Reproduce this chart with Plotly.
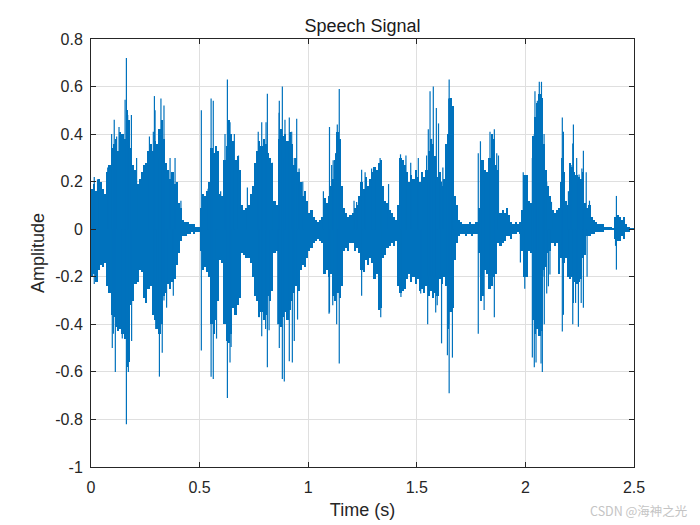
import plotly.graph_objects as go

# envelope of the signal, one value every 0.01 s
upper = [
    .17, .19, .16, .21, .20, .17, .15, .24, .27, .34,
    .36, .38, .33, .41, .40, .38, .50, .46, .34, .27,
    .25, .19, .21, .24, .27, .28, .33, .36, .33, .37,
    .36, .42, .46, .38, .28, .25, .21, .24, .19, .20,
    .11, .09, .04, .03, .03, .02, .02, .02, .01, .01,
    .09, .15, .14, .16, .20, .34, .32, .35, .33, .15,
    .14, .29, .35, .46, .40, .37, .29, .31, .25, .10,
    .08, .09, .10, .15, .18, .28, .33, .37, .35, .38,
    .36, .32, .30, .28, .12, .10, .38, .42, .39, .40,
    .37, .41, .36, .27, .30, .24, .20, .14, .16, .12,
    .07, .08, .05, .04, .03, .04, .05, .13, .11, .14,
    .18, .21, .29, .41, .38, .18, .09, .07, .05, .06,
    .07, .09, .10, .14, .20, .17, .22, .18, .21, .24,
    .26, .25, .28, .29, .18, .12, .11, .08, .07, .05,
    .04, .10, .30, .29, .27, .24, .20, .23, .21, .25,
    .22, .20, .24, .22, .25, .33, .38, .36, .31, .22,
    .24, .18, .21, .36, .40, .55, .52, .14, .10, .04,
    .03, .02, .02, .02, .03, .02, .02, .03, .09, .29,
    .29, .25, .24, .30, .40, .38, .27, .25, .07, .08,
    .07, .09, .06, .03, .02, .03, .02, .03, .08, .23,
    .23, .12, .11, .39, .47, .53, .57, .55, .36, .25,
    .18, .14, .08, .07, .08, .09, .20, .24, .12, .10,
    .28, .26, .24, .23, .22, .21, .24, .11, .09, .10,
    .05, .04, .03, .02, .02, .02, .01, .01, .01, .01,
    .005, .05, .06, .05, .04, .05, .02, .01, .005, .002,
]
lower = [
    -.20, -.19, -.22, -.17, -.15, -.16, -.14, -.24, -.27, -.36,
    -.37, -.41, -.43, -.42, -.44, -.46, -.58, -.56, -.32, -.30,
    -.23, -.22, -.17, -.18, -.29, -.31, -.25, -.24, -.36, -.38,
    -.42, -.44, -.40, -.28, -.27, -.23, -.25, -.22, -.21, -.15,
    -.10, -.05, -.03, -.03, -.02, -.02, -.01, -.02, -.01, -.01,
    -.09, -.17, -.16, -.18, -.20, -.40, -.44, -.38, -.30, -.13,
    -.14, -.40, -.47, -.48, -.44, -.33, -.36, -.32, -.29, -.10,
    -.11, -.12, -.12, -.14, -.20, -.28, -.30, -.37, -.35, -.38,
    -.36, -.28, -.30, -.26, -.10, -.09, -.40, -.41, -.37, -.35,
    -.38, -.34, -.30, -.27, -.24, -.26, -.17, -.15, -.16, -.12,
    -.09, -.08, -.06, -.05, -.04, -.05, -.06, -.19, -.17, -.20,
    -.19, -.28, -.30, -.27, -.29, -.24, -.09, -.08, -.09, -.06,
    -.06, -.09, -.08, -.10, -.17, -.18, -.13, -.15, -.12, -.14,
    -.21, -.19, -.34, -.33, -.12, -.11, -.08, -.07, -.06, -.07,
    -.05, -.24, -.27, -.26, -.25, -.21, -.19, -.22, -.20, -.23,
    -.21, -.26, -.25, -.27, -.24, -.28, -.26, -.29, -.27, -.28,
    -.21, -.23, -.20, -.24, -.42, -.35, -.33, -.13, -.06, -.03,
    -.02, -.02, -.03, -.02, -.02, -.03, -.02, -.02, -.10, -.30,
    -.28, -.17, -.19, -.25, -.24, -.20, -.19, -.06, -.07, -.06,
    -.05, -.03, -.03, -.04, -.02, -.02, -.01, -.02, -.09, -.20,
    -.20, -.09, -.10, -.38, -.44, -.42, -.45, -.43, -.17, -.16,
    -.10, -.09, -.06, -.07, -.06, -.19, -.12, -.14, -.12, -.20,
    -.21, -.20, -.22, -.23, -.22, -.21, -.12, -.11, -.03, -.03,
    -.02, -.02, -.01, -.01, -.01, -.01, -.005, -.005, -.005, -.005,
    -.005, -.04, -.05, -.05, -.03, -.04, -.01, -.01, -.005, -.002,
]
time_s = [i / 100 for i in range(len(upper))]

# single strokes that stick out of the envelope
spike_t = [.098, .107, .112, .129, .163, .172, .186, .292, .295, .315, .322, .328, .336,
           .508, .553, .563, .628, .786, .812, .867, .881, .89, .913, .927, .936, 1.098,
           1.143, 1.246, 1.334, 1.55, 1.553, 1.561, 1.576, 1.587, 1.59, 1.614, 1.641,
           1.647, 1.649, 1.664, 1.783, 1.793, 1.81, 1.837, 1.857, 2.032, 2.041, 2.044,
           2.049, 2.055, 2.064, 2.072, 2.074, 2.078, 2.086, 2.087, 2.098, 2.17, 2.175,
           2.218, 2.221, 2.244, 2.257, 2.267, 2.419]
spike_hi = [.3, .46, .3, .43, .72, .4, .48, .56, .5, .3, .55, .4, .52,
            .5, .55, .54, .63, .3, .57, .54, .6, .3, .47, .3, .3, .43,
            .59, .15, .25, .2, .42, .58, .6, .3, .51, .2, .3,
            .55, .63, .4, .32, .37, .2, .41, .42, .3, .4, .58,
            .4, .54, .62, .5, .62, .4, .4, .2, .2, .47, .41,
            .2, .44, .2, .2, .33, .14]
spike_lo = [-.5, -.3, -.6, -.3, -.82, -.6, -.3, -.3, -.3, -.62, -.4, -.52, -.3,
            -.51, -.62, -.63, -.71, -.45, -.58, -.5, -.63, -.64, -.555, -.56, -.47, -.35,
            -.565, -.28, -.37, -.4, -.2, -.2, -.2, -.35, -.2, -.48, -.53,
            -.4, -.69, -.54, -.44, -.2, -.34, -.2, -.37, -.54, -.58, -.4,
            -.56, -.4, -.4, -.565, -.4, -.6, -.2, -.4, -.27, -.43, -.36,
            -.4, -.31, -.41, -.31, -.33, -.17]

# shorter strokes along the top edge
top_t = [.015, .03, .077, .095, .118, .157, .169, .21, .269, .287, .364, .387, .414,
         .539, .597, .617, .64, .66, .679, .72, .77, .786, .806, .835, .866, .893, .924,
         .947, .958, .975, 1.07, 1.115, 1.108, 1.126, 1.134, 1.211, 1.223, 1.246, 1.262,
         1.292, 1.307, 1.331, 1.37, 1.425, 1.45, 1.472, 1.507, 1.545, 1.568, 1.6, 1.62,
         1.665, 1.668, 1.868, 1.876, 1.99, 2.095, 2.12, 2.167, 2.198, 2.21, 2.218, 2.236,
         2.247, 2.26, 2.28, 2.295]
top_y = [.22, .21, .26, .4, .39, .545, .48, .3, .39, .41, .3, .3, .12,
         .17, .16, .4, .45, .4, .31, .175, .41, .45, .45, .28, .49, .46, .41,
         .465, .255, .2, .16, .29, .27, .32, .44, .12, .115, .25, .24,
         .255, .26, .3, .19, .315, .31, .28, .3, .31, .38, .445, .26,
         .49, .4, .32, .31, .24, .24, .115, .3, .16, .27, .36, .3,
         .23, .255, .24, .12]
# and along the bottom edge
bot_t = [.015, .103, .144, .187, .253, .298, .348, .379, .578, .64, .645, .774, .804,
         .82, .86, .951, 1.096, 1.113, 1.131, 1.427, 1.518, 1.594, 1.977, 1.997, 2.106,
         2.113, 2.2, 2.231, 2.284, 2.415]
bot_y = [-.23, -.44, -.46, -.47, -.31, -.42, -.33, -.28, -.46, -.56, -.495, -.37, -.42,
         -.425, -.4, -.38, -.355, -.32, -.4, -.285, -.27, -.32, -.14, -.25, -.24,
         -.19, -.2, -.31, -.2, -.07]

xtick_vals = [0, 0.5, 1, 1.5, 2, 2.5]
xtick_text = ["0", "0.5", "1", "1.5", "2", "2.5"]
ytick_vals = [0.8, 0.6, 0.4, 0.2, 0, -0.2, -0.4, -0.6, -0.8, -1]
ytick_text = ["0.8", "0.6", "0.4", "0.2", "0", "-0.2", "-0.4", "-0.6", "-0.8", "-1"]

BLUE = "#0072BD"
DARK = "#262626"
FONT = "Liberation Sans"

spike_x = []
spike_y = []
for t, hi, lo in zip(spike_t, spike_hi, spike_lo):
    spike_x += [t, t, None]
    spike_y += [hi, lo, None]
for t, v in zip(top_t + bot_t, top_y + bot_y):
    spike_x += [t, t, None]
    spike_y += [v, 0, None]

fig = go.Figure()
fig.add_trace(go.Bar(x=time_s, y=[u - l for u, l in zip(upper, lower)], base=lower,
                     width=0.01, offset=0, marker=dict(color=BLUE, line_width=0)))
fig.add_trace(go.Scatter(x=spike_x, y=spike_y, mode="lines",
                         line=dict(color=BLUE, width=1.2)))

fig.update_layout(
    width=700, height=525, autosize=False, showlegend=False,
    paper_bgcolor="white", plot_bgcolor="white",
    margin=dict(l=83, r=74, t=31, b=66),
    font=dict(family=FONT, size=16, color=DARK),
    title=dict(text="Speech Signal", x=(83 + 626) / 2 / 700, xanchor="center",
               y=1 - 18 / 525, yanchor="middle", font=dict(size=18, color="#1a1a1a")),
    bargap=0,
)
fig.update_xaxes(range=[0, 2.5], tickmode="array", tickvals=xtick_vals, ticktext=xtick_text,
                 ticks="inside", ticklen=5, tickwidth=1, tickcolor=DARK, ticklabelstandoff=6,
                 showline=True, linecolor=DARK, linewidth=1, mirror="ticks",
                 showgrid=True, gridcolor="#dfdfdf", gridwidth=1, zeroline=False,
                 title=dict(text="Time (s)", font=dict(size=18), standoff=8))
fig.update_yaxes(range=[-1, 0.8], tickmode="array", tickvals=ytick_vals, ticktext=ytick_text,
                 ticks="inside", ticklen=5, tickwidth=1, tickcolor=DARK, ticklabelstandoff=4,
                 showline=True, linecolor=DARK, linewidth=1, mirror="ticks",
                 showgrid=True, gridcolor="#dfdfdf", gridwidth=1, zeroline=False,
                 title=dict(text="Amplitude", font=dict(size=18), standoff=5))
fig.add_annotation(text="CSDN @海神之光", xref="paper", yref="paper",
                   x=(681 - 83) / 543, y=-(503 - 459) / 428, xanchor="right", yanchor="middle",
                   showarrow=False, font=dict(family="Noto Sans CJK SC", size=12.5, color="#c4c4c4"))

fig.write_html("out.html")
